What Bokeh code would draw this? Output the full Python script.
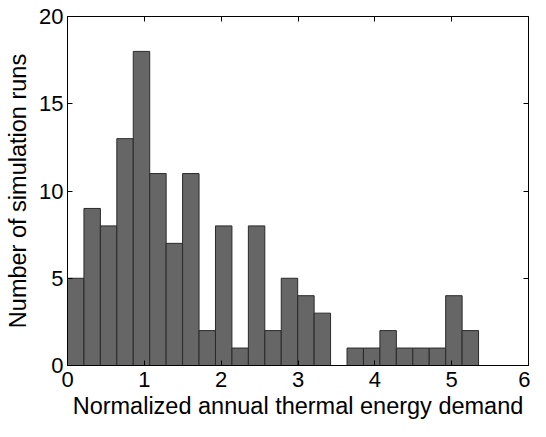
from bokeh.plotting import figure
from bokeh.models import LinearAxis, Range1d, FixedTicker
from bokeh.embed import file_html
from bokeh.resources import INLINE

counts = [5, 9, 8, 13, 18, 11, 7, 11, 2, 8, 1, 8, 2, 5, 4, 3, 0, 1, 1, 2, 1, 1, 1, 4, 2]
bin_start = 0.0
bin_width = 0.214
x_ticks = [0, 1, 2, 3, 4, 5, 6]
y_ticks = [0, 5, 10, 15, 20]

lefts = [bin_start + i * bin_width for i in range(len(counts))]
rights = [l + bin_width for l in lefts]

FONT = "Liberation Sans"

p = figure(width=530, height=421, output_backend="svg", toolbar_location=None,
           x_range=Range1d(0, 6), y_range=Range1d(0, 20),
           x_axis_location=None, y_axis_location=None,
           min_border_left=67, min_border_right=2, min_border_top=16, min_border_bottom=0)
p.grid.visible = False
p.outline_line_color = None
p.background_fill_color = "white"

p.quad(left=lefts, right=rights, bottom=0, top=counts,
       fill_color="#666666", line_color="#2a2a2a", line_width=1)

def style(ax, labels=True):
    ax.axis_line_color = "black"
    ax.major_tick_line_color = "black"
    ax.major_tick_in = 5
    ax.major_tick_out = 0
    ax.minor_tick_line_color = None
    ax.major_label_text_font = FONT
    if labels:
        ax.major_label_text_color = "black"
        ax.major_label_text_font_size = "22px"
    else:
        ax.major_label_text_color = None
        ax.major_label_text_font_size = "1px"
        ax.major_label_standoff = 0

xb = LinearAxis(ticker=FixedTicker(ticks=x_ticks), axis_label="Normalized annual thermal energy demand")
style(xb)
xb.major_label_standoff = 6
xb.axis_label_text_font = FONT
xb.axis_label_text_font_size = "23.5px"
xb.axis_label_text_font_style = "normal"
xb.axis_label_text_color = "black"
xb.axis_label_standoff = 3
p.add_layout(xb, "below")

yl = LinearAxis(ticker=FixedTicker(ticks=y_ticks), axis_label="Number of simulation runs")
style(yl)
yl.major_label_standoff = 4
yl.axis_label_text_font = FONT
yl.axis_label_text_font_size = "23.5px"
yl.axis_label_text_font_style = "normal"
yl.axis_label_text_color = "black"
yl.axis_label_standoff = 5
p.add_layout(yl, "left")

xt = LinearAxis(ticker=FixedTicker(ticks=x_ticks))
style(xt, labels=False)
p.add_layout(xt, "above")

yr = LinearAxis(ticker=FixedTicker(ticks=y_ticks))
style(yr, labels=False)
p.add_layout(yr, "right")

open("out.html", "w").write(file_html(p, INLINE))
